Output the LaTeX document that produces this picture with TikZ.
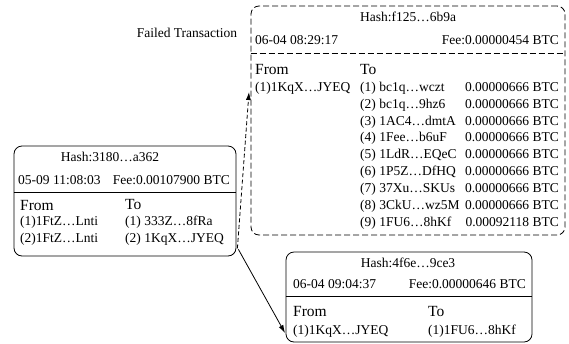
\documentclass[tikz,border=0pt]{standalone}
\usepackage{fontspec}
\setmainfont{Liberation Serif}
\usetikzlibrary{arrows.meta}
\begin{document}
\begin{tikzpicture}[x=1pt,y=-1pt,
  txt/.style={inner sep=0pt, font=\fontsize{13.5}{15}\selectfont, text height=9.5pt, text depth=3pt},
  big/.style={inner sep=0pt, font=\fontsize{15.5}{17}\selectfont, text height=10.5pt, text depth=3pt},
  tbox/.style={draw, line width=0.8pt, rounded corners=8pt, inner sep=0pt},
  dbox/.style={tbox, dash pattern=on 6pt off 3pt},
  darrow/.style={line width=0.8pt, dash pattern=on 4pt off 2.5pt, -{Latex[length=8pt,width=5pt]}},
  sarrow/.style={line width=0.8pt, -{Latex[length=8pt,width=5pt]}}]
\useasboundingbox (0,0) rectangle (569,343);

% ---------- failed transaction (top) ----------
\node[dbox, minimum width=314pt, minimum height=229pt] (top) at (408,120.5) {};
\draw[line width=0.8pt, dash pattern=on 6pt off 3pt] (top.west |- 0,53) -- (top.east |- 0,53);
\node[txt] (thash) at (408,18) {Hash:f125…6b9a};
\node[txt, anchor=west] (tdate) at (255,41) {06-04 08:29:17};
\node[txt, anchor=east] (tfee) at (559,41) {Fee:0.00000454 BTC};
\node[big, anchor=west] (tfrom) at (255,71) {From};
\node[big, anchor=west] (tto) at (360,71) {To};
\node[txt, anchor=west] (tf1) at (255,88) {(1)1KqX…JYEQ};
\foreach \i/\a/\v in {1/bc1q…wczt/0.00000666,2/bc1q…9hz6/0.00000666,3/1AC4…dmtA/0.00000666,
  4/1Fee…b6uF/0.00000666,5/1LdR…EQeC/0.00000666,6/1P5Z…DfHQ/0.00000666,
  7/37Xu…SKUs/0.00000666,8/3CkU…wz5M/0.00000666,9/1FU6…8hKf/0.00092118}{
  \node[txt, anchor=west] (tt\i) at (360,{88+16.9*(\i-1)}) {(\i) \a};
  \node[txt, anchor=east] (ta\i) at (559,{88+16.9*(\i-1)}) {\v\ BTC};
}
\node[txt] (label) at (187,34) {Failed Transaction};

% ---------- left transaction ----------
\node[tbox, minimum width=222pt, minimum height=110pt] (lbox) at (125,201) {};
\draw[line width=0.8pt] (lbox.west |- 0,192) -- (lbox.east |- 0,192);
\node[txt] (lhash) at (110,158) {Hash:3180…a362};
\node[txt, anchor=west] (ldate) at (18,181) {05-09 11:08:03};
\node[txt, anchor=east] (lfee) at (230,181) {Fee:0.00107900 BTC};
\node[big, anchor=west] (lfrom) at (20,207) {From};
\node[big, anchor=west] (lto) at (125,206) {To};
\node[txt, anchor=west] (lf1) at (20,222) {(1)1FtZ…Lnti};
\node[txt, anchor=west] (lf2) at (20,239) {(2)1FtZ…Lnti};
\node[txt, anchor=west] (lt1) at (125,222) {(1) 333Z…8fRa};
\node[txt, anchor=west] (lt2) at (125,239) {(2) 1KqX…JYEQ};

% ---------- bottom transaction ----------
\node[tbox, minimum width=246pt, minimum height=90pt] (bbox) at (409,297) {};
\draw[line width=0.8pt] (bbox.west |- 0,296) -- (bbox.east |- 0,296);
\node[txt] (bhash) at (408,264) {Hash:4f6e…9ce3};
\node[txt, anchor=west] (bdate) at (293,285) {06-04 09:04:37};
\node[txt, anchor=east] (bfee) at (526,285) {Fee:0.00000646 BTC};
\node[big, anchor=west] (bfrom) at (293,313) {From};
\node[big, anchor=west] (bto) at (428,313) {To};
\node[txt, anchor=west] (bf1) at (293,331) {(1)1KqX…JYEQ};
\node[txt, anchor=west] (bt1) at (428,331) {(1)1FU6…8hKf};

% ---------- connectors ----------
\coordinate (src1) at ([shift={(1,-8)}]lbox.south east);
\coordinate (src2) at ([shift={(2,-7)}]lbox.south east);
\draw[darrow] (src1) -- ([shift={(-6,4)}]tf1.west);
\draw[sarrow] (src2) -- ([shift={(-8,2)}]bf1.west);
\end{tikzpicture}
\end{document}
